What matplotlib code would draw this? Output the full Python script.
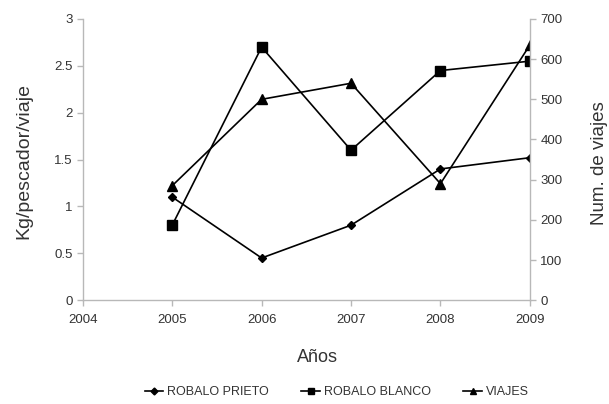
import matplotlib
matplotlib.use("Agg")
import matplotlib.pyplot as plt
from matplotlib.lines import Line2D

plt.rcParams["font.family"] = ["Liberation Sans", "DejaVu Sans"]

# Datos
anios = [2005, 2006, 2007, 2008, 2009]
robalo_prieto = [1.1, 0.45, 0.8, 1.4, 1.52]
robalo_blanco = [0.8, 2.7, 1.6, 2.45, 2.55]
viajes = [285, 500, 540, 290, 635]

gris = "#b8b8b8"
texto = "#333333"

fig = plt.figure(figsize=(6.09, 4.04), dpi=100)
ax = fig.add_axes([0.136, 0.257, 0.734, 0.696])
ax2 = ax.twinx()

ax.plot(anios, robalo_prieto, color="black", lw=1.2, marker="D", ms=4.5)
ax.plot(anios, robalo_blanco, color="black", lw=1.2, marker="s", ms=6.5)
ax2.plot(anios, viajes, color="black", lw=1.2, marker="^", ms=7)

ax.set_xlim(2004, 2009)
ax.set_ylim(0, 3)
ax2.set_ylim(0, 700)
ax.set_xticks([2004, 2005, 2006, 2007, 2008, 2009])
ax.set_yticks([0, 0.5, 1, 1.5, 2, 2.5, 3])
ax.set_yticklabels(["0", "0.5", "1", "1.5", "2", "2.5", "3"])
ax2.set_yticks([0, 100, 200, 300, 400, 500, 600, 700])

for a in (ax, ax2):
    a.spines["top"].set_visible(False)
    for s in ("left", "right", "bottom"):
        a.spines[s].set_color(gris)
        a.spines[s].set_linewidth(1.0)
    a.tick_params(colors=gris, labelcolor=texto, labelsize=9.5, length=4, width=1)
ax.spines["right"].set_visible(False)
ax2.spines["left"].set_visible(False)
ax2.spines["bottom"].set_visible(False)
ax.tick_params(axis="x", pad=6)

# Etiquetas de ejes
fig.text(0.522, 0.116, "Años", fontsize=13, color=texto, ha="center", va="center")
fig.text(0.040, 0.601, "Kg/pescador/viaje", fontsize=14, color=texto,
         rotation=90, ha="center", va="center")
fig.text(0.998, 0.597, "Num. de viajes", fontsize=13.5, color=texto,
         rotation=90, ha="right", va="center")

handles = [
    Line2D([], [], color="black", lw=1.2, marker="D", ms=3.5),
    Line2D([], [], color="black", lw=1.2, marker="s", ms=5),
    Line2D([], [], color="black", lw=1.2, marker="^", ms=5),
]
fig.legend(handles, ["ROBALO PRIETO", "ROBALO BLANCO", "VIAJES"],
           loc="center", bbox_to_anchor=(0.553, 0.03), ncol=3, frameon=False,
           fontsize=9, handlelength=1.5, handletextpad=0.3, columnspacing=2.6,
           labelcolor=texto)

fig.savefig("out.png", dpi=100)
